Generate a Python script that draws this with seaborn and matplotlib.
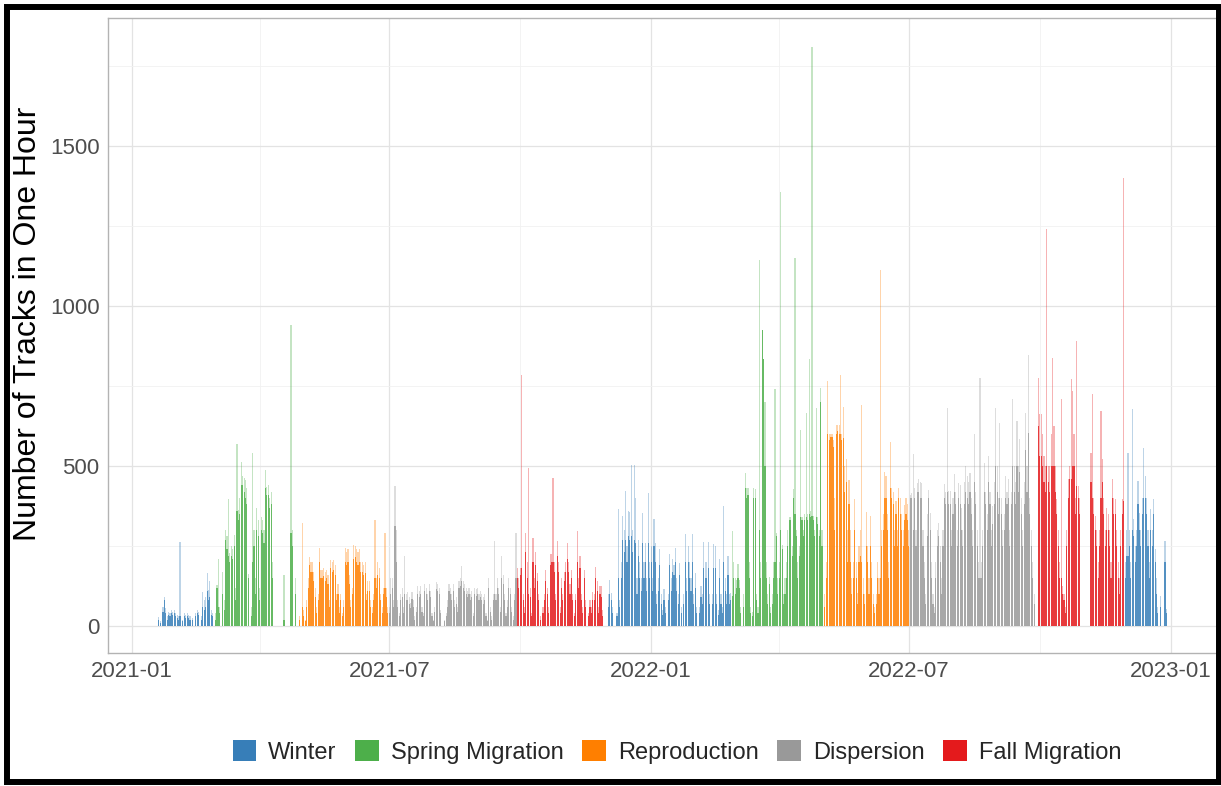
import numpy as np
import pandas as pd
import matplotlib
matplotlib.use("Agg")
import matplotlib.pyplot as plt
import seaborn as sns
from matplotlib.patches import Patch, Rectangle

sns.set_style("white")
plt.rcParams['font.family'] = ['Liberation Sans', 'DejaVu Sans']

seasons = ["Winter", "Spring Migration", "Reproduction", "Dispersion", "Fall Migration"]
palette = ["#377EB8", "#4DAF4A", "#FF7F00", "#999999", "#E41A1C"]
tick_labels = ["2021-01", "2021-07", "2022-01", "2022-07", "2023-01"]
origin = pd.Timestamp("2021-01-01")

# ---- daily values (hi = tallest hour of the day, lo = typical dense hours) ----
w1_start = "2021-01-19"
w1_hi = [0,27,15,0,60,90,55,30,45,40, 50,45,50,40,35,30,264,0,20,40,
         35,40,35,30,0,25,0,40,50,45, 0,30,107,80,90,165,113,140,50,40]
w1_lo = [0,20,10,0,45,80,40,20,35,30, 40,35,40,30,25,20,30,0,15,30,
         25,30,25,20,0,20,0,30,40,35, 0,20,60,50,60,110,80,90,35,30]

sp1_start = "2021-02-28"
sp1_hi = [0,40,128,210,60,0,170,80,300,280, 397,228,250,240,285,120,569,362,400,513,
          470,462,455,430,162,0,60,540,300,150, 368,330,120,340,330,300,488,435,440,400,
          420,200, 0,0,0,0,0,0,0,160,0,0, 0,0,940,300,0,150]
sp1_lo = [0,20,120,60,40,0,100,50,270,240, 220,200,220,210,250,80,360,330,350,440,
          440,420,400,380,150,0,30,200,250,100, 300,280,80,300,290,260,430,410,410,370,
          380,150, 0,0,0,0,0,0,0,20,0,0, 0,0,290,250,0,100]

r1_start = "2021-04-27"
r1_hi = [0,0,30,0,323,50,20,80,150,217, 200,200,170,120,60,100,243,175,175,180,
         170,175,160,80,205,200,205,190,100,130, 60,100,40,80,243,230,240,160,80,120,
         253,250,240,230,240,200,200,190,200,100, 140,140,80,60,100,331,150,200,180,100,
         60,120,290,120,60]
r1_lo = [0,0,20,0,60,30,15,60,120,190, 170,170,140,90,40,80,200,150,150,155,
         140,150,130,60,180,170,175,160,80,100, 40,80,30,60,200,190,200,130,60,100,
         210,215,200,190,200,170,170,160,165,80, 110,110,60,40,80,150,120,160,150,80,
         40,100,120,90,40]

d1_start = "2021-07-01"
d1_hi = [60,150,150,80,437,300,80,40,100,120, 60,219,100,105,90,73,105,80,30,60,
         125,110,125,60,40,130,120,100,130,110, 40,20,60,136,130,120,50,0,0,20,
         40,80,130,120,100,130,80,90,60,140, 150,187,140,130,120,110,120,100,110,40,
         120,115,120,100,110,100,90,100,40,20, 150,60,30,100,265,100,150,120,60,220,
         160,100,40,80,150,120,60,30,100,292]
d1_lo = [40,100,120,60,312,200,60,30,80,90, 40,100,80,80,70,55,85,60,20,45,
         100,90,100,45,30,110,100,80,110,90, 30,15,45,115,110,100,40,0,0,15,
         30,60,110,100,80,110,60,70,45,120, 125,140,120,110,100,90,100,80,90,30,
         100,95,100,80,90,80,70,80,30,15, 120,45,20,80,100,80,120,100,45,150,
         130,80,30,60,120,100,45,20,80,150]

f1_start = "2021-09-29"
f1_hi = [180,150,180,783,100,60,290,200,495,120, 40,275,150,230,165,100,30,0,60,100,
         175,120,60,225,225,463,200,100,265,200, 60,150,100,170,200,258,200,130,175,100,
         40,100,297,150,220,100,60,175,80,0, 40,80,60,105,100,185,140,60,125,125, 50]
f1_lo = [150,120,160,180,80,40,230,150,100,90, 30,200,120,190,140,80,20,0,40,80,
         140,100,40,190,200,200,170,80,220,170, 40,120,80,140,170,210,170,100,150,80,
         30,80,200,120,180,80,40,150,60,0, 30,60,40,80,80,150,110,40,100,90, 30]

w2_start = "2021-11-29"
w2_hi = [0,0,0,100,145,104,60,0,0,40, 365,80,200,344,300,422,250,359,355,502,
         300,502,400,150,270,200,150,354,200,260, 150,416,200,250,150,333,260,100,150,240,
         100,50,115,60,0,100,224,150,208,190, 245,150,100,198,60,0,100,287,150,250,
         200,150,287,100,167,60,0,60,125,100, 262,200,200,262,100,0,100,255,250,100,
         50,208,100,60,375,150,100,219,100,104]
w2_lo = [0,0,0,60,100,80,40,0,0,30, 150,60,150,270,230,270,200,280,270,280,
         230,270,260,100,220,150,110,260,150,200, 110,260,150,200,110,250,200,70,110,190,
         70,35,80,40,0,80,190,110,170,160, 200,110,70,160,40,0,70,200,110,200,
         150,110,200,70,120,40,0,40,90,70, 180,150,150,180,70,0,70,180,180,70,
         35,150,70,40,200,110,70,160,70,80]

sp2_start = "2022-02-27"
sp2_hi = [296,200,150,143,193,143,60,0,100,479, 430,430,200,60,45,430,427,100,60,1143,
          200,926,833,700,200,100,154,60,100,200, 740,290,150,200,1357,253,100,150,200,300,
          340,340,250,427,1150,300,200,250,611,340, 300,350,667,350,833,360,1810,345,300,680,
          340,300,745,300]
sp2_lo = [93,150,100,120,150,120,40,0,60,432, 400,410,150,40,30,400,400,80,40,300,
          150,926,833,500,150,70,130,40,70,150, 200,280,100,150,300,240,70,100,150,250,
          330,330,220,400,350,280,150,220,340,330, 280,330,340,330,350,340,345,330,280,340,
          320,280,700,250]

r2_start = "2022-05-02"
r2_hi = [0,100,200,766,599,599,599,580,400,628, 628,628,784,600,683,500,521,300,455,300,
         150,200,398,200,102,250,300,691,150,100, 357,250,150,345,200,100,60,100,200,150,
         1111,300,350,481,470,350,200,574,431,420, 300,390,300,430,400,350,300,378,400,380, 300]
r2_lo = [0,60,150,600,580,590,590,560,300,600, 610,600,600,580,588,420,450,200,380,200,
         100,150,300,150,70,200,220,200,100,70, 250,200,100,250,150,70,40,70,150,100,
         150,250,300,400,400,300,150,431,400,380, 250,350,250,400,350,300,250,330,350,330, 250]

d2_start = "2022-07-02"
d2_hi = [410,417,537,430,300,448,460,450,448,300, 200,100,350,425,354,200,100,60,200,300,
         323,250,150,300,443,420,682,422,422,300, 400,474,420,300,448,440,370,300,450,500,
         469,450,479,400,300,599,420,300,200,776, 200,300,510,420,350,531,420,300,375,450,
         682,500,400,635,400,300,350,469,420,458, 300,420,708,500,450,641,500,583,400,300,
         450,667,500,846,400,300,200,100,0,0]
d2_lo = [400,400,300,400,250,420,420,400,400,250, 150,70,280,400,300,150,70,40,150,250,
         280,200,100,250,400,380,420,380,380,250, 350,420,380,250,400,380,300,250,380,420,
         400,380,420,350,250,450,380,250,150,150, 150,250,420,380,300,450,380,250,320,380,
         500,420,350,400,350,250,300,400,380,400, 250,380,500,420,380,500,420,480,350,250,
         380,550,420,604,350,250,150,70,0,0]

f2_start = "2022-09-30"
f2_hi = [776,661,661,600,531,500,1240,500,500,600, 838,625,500,396,300,200,708,125,100,60,
         300,458,500,771,735,600,400,891,438,400, 0,0,0,0,0,0,0,542,724,400,
         344,300,200,300,672,521,400,300,370,350, 300,200,458,400,396,300,200,150,300,396, 1400]
f2_lo = [625,531,531,500,450,420,500,450,420,500, 500,500,420,350,250,150,150,100,80,40,
         250,400,458,458,500,500,350,438,400,350, 0,0,0,0,0,0,0,450,400,350,
         300,250,150,250,400,450,350,250,300,300, 250,150,400,350,350,250,150,100,250,350, 390]

w3_start = "2022-11-30"
w3_hi = [200,300,542,300,200,677,333,250,300,453, 354,300,400,557,469,400,300,200,365,300,
         396,240,150,60,0,94,0,0,266,52]
w3_lo = [150,219,219,250,150,300,280,200,250,380, 300,250,350,400,400,350,250,150,300,250,
         350,200,100,40,0,60,0,0,200,40]

segments = [
    ("Winter", w1_start, w1_hi, w1_lo),
    ("Spring Migration", sp1_start, sp1_hi, sp1_lo),
    ("Reproduction", r1_start, r1_hi, r1_lo),
    ("Dispersion", d1_start, d1_hi, d1_lo),
    ("Fall Migration", f1_start, f1_hi, f1_lo),
    ("Winter", w2_start, w2_hi, w2_lo),
    ("Spring Migration", sp2_start, sp2_hi, sp2_lo),
    ("Reproduction", r2_start, r2_hi, r2_lo),
    ("Dispersion", d2_start, d2_hi, d2_lo),
    ("Fall Migration", f2_start, f2_hi, f2_lo),
    ("Winter", w3_start, w3_hi, w3_lo),
]

frames = []
for season, start, hi, lo in segments:
    dates = pd.date_range(start, periods=len(hi), freq="D")
    frames.append(pd.DataFrame({"date": dates, "season": season, "hi": hi, "lo": lo}))
df = pd.concat(frames, ignore_index=True)
df["day"] = (df["date"] - origin).dt.days
df_hi = df[df["hi"] > 0]
df_lo = df[df["lo"] > 0]

# ---- figure ----
W, H = 1221, 786
fig = plt.figure(figsize=(W / 100, H / 100), dpi=100)
ax = fig.add_axes([108 / W, 1 - 653 / H, (1217 - 108) / W, (653 - 18) / H])

common = dict(x="day", hue="season", hue_order=seasons, palette=palette,
              native_scale=True, dodge=False, width=0.8, errorbar=None,
              saturation=1, linewidth=0, legend=False, ax=ax)
sns.barplot(data=df_hi, y="hi", alpha=0.33, **common)
sns.barplot(data=df_lo, y="lo", alpha=0.78, **common)

tick_dates = pd.to_datetime(tick_labels, format="%Y-%m")
major_pos = [(d - origin).days for d in tick_dates]
minor_pos = [(d - origin).days for d in pd.to_datetime(["2021-04", "2021-10", "2022-04", "2022-10"], format="%Y-%m")]
ax.set_xticks(major_pos)
ax.set_xticklabels(tick_labels)
ax.set_xticks(minor_pos, minor=True)
ax.set_yticks([0, 500, 1000, 1500])
ax.set_yticks([250, 750, 1250, 1750], minor=True)
ax.set_xlim(-16.6, 762.5)
ax.set_ylim(-84.4, 1900)

ax.grid(which="major", color="#E3E3E3", linewidth=0.9)
ax.grid(which="minor", color="#F1F1F1", linewidth=0.6)
ax.set_axisbelow(True)
for s in ax.spines.values():
    s.set_color("#B3B3B3")
    s.set_linewidth(1.0)

ax.tick_params(axis="both", which="major", length=4, width=1, color="#B3B3B3",
               labelsize=16, labelcolor="#4D4D4D", pad=2)
ax.tick_params(axis="both", which="minor", length=0)
ax.set_xlabel("")
ax.set_ylabel("Number of Tracks in One Hour", fontsize=23, color="black")
ax.yaxis.set_label_coords(-0.0586, 0.518)

handles = [Patch(facecolor=c, edgecolor="none") for c in palette]
fig.legend(handles, seasons, loc="center", bbox_to_anchor=(677 / W, 34 / H), ncol=5,
           frameon=False, fontsize=17, handlelength=1.0, handleheight=1.0,
           handletextpad=0.5, columnspacing=0.8)

fig.patches.append(Rectangle((7 / W, 4 / H), (1219 - 7) / W, (779 - 4) / H,
                             transform=fig.transFigure, fill=False,
                             edgecolor="black", linewidth=4.3))

fig.savefig("out.png", dpi=100)
